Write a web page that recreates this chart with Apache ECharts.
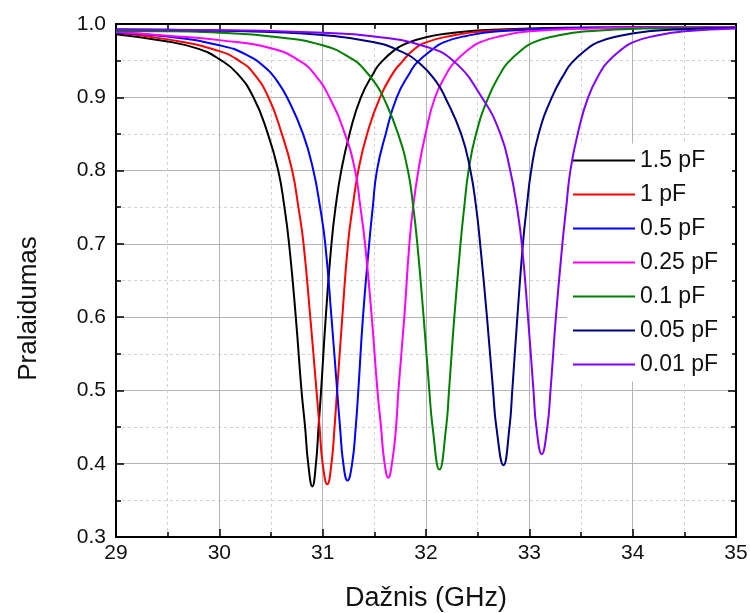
<!DOCTYPE html>
<html>
<head>
<meta charset="utf-8">
<script src="https://cdn.jsdelivr.net/npm/echarts@6/dist/echarts.min.js"></script>
<style>html,body{margin:0;padding:0;background:#fff}#c{width:750px;height:613px}</style>
</head>
<body>
<div id="c"></div>
<script>
// Frequency (GHz), transmission
const seriesNames = ['1.5 pF', '1 pF', '0.5 pF', '0.25 pF', '0.1 pF', '0.05 pF', '0.01 pF'];
const seriesColors = ['#000000', '#ff0000', '#0000ff', '#ff00ff', '#008000', '#000080', '#8000ff'];

const c15 = [[29.0,0.986],[29.5,0.976],[29.8,0.966],[30.0,0.952],[30.17,0.933],[30.33,0.900],[30.47,0.850],[30.57,0.800],[30.63,0.750],[30.675,0.700],[30.74,0.600],[30.795,0.500],[30.83,0.450],[30.86,0.400],[30.90,0.369],[30.935,0.400],[30.96,0.450],[30.985,0.500],[31.03,0.600],[31.085,0.700],[31.125,0.750],[31.18,0.800],[31.26,0.850],[31.37,0.900],[31.5,0.935],[31.56,0.947],[31.7,0.965],[31.8,0.973],[32.0,0.982],[32.27,0.988],[32.5,0.991],[33.0,0.994],[34.0,0.9955],[35.0,0.996]];
const c1 = [[29.0,0.988],[29.5,0.979],[30.0,0.963],[30.2,0.949],[30.33,0.933],[30.475,0.900],[30.605,0.850],[30.705,0.800],[30.765,0.750],[30.815,0.700],[30.88,0.600],[30.94,0.500],[30.97,0.450],[31.0,0.400],[31.045,0.372],[31.085,0.400],[31.115,0.450],[31.14,0.500],[31.19,0.600],[31.245,0.700],[31.29,0.750],[31.345,0.800],[31.43,0.850],[31.555,0.900],[31.69,0.935],[31.76,0.947],[31.88,0.965],[32.0,0.975],[32.25,0.984],[32.55,0.990],[33.0,0.993],[34.0,0.995],[35.0,0.996]];
const c05 = [[29.0,0.988],[29.5,0.983],[30.0,0.971],[30.25,0.959],[30.45,0.940],[30.56,0.922],[30.655,0.900],[30.81,0.850],[30.91,0.800],[30.975,0.750],[31.025,0.700],[31.085,0.600],[31.14,0.500],[31.168,0.450],[31.2,0.400],[31.24,0.377],[31.285,0.400],[31.32,0.450],[31.345,0.500],[31.39,0.600],[31.45,0.700],[31.485,0.750],[31.525,0.800],[31.61,0.850],[31.717,0.900],[31.85,0.935],[31.91,0.947],[32.06,0.965],[32.17,0.975],[32.4,0.984],[32.7,0.990],[33.3,0.994],[34.2,0.9955],[35.0,0.996]];
const c025 = [[29.0,0.989],[29.5,0.984],[30.0,0.978],[30.5,0.967],[30.785,0.949],[30.935,0.929],[31.065,0.900],[31.215,0.850],[31.314,0.800],[31.365,0.750],[31.41,0.700],[31.475,0.600],[31.53,0.500],[31.565,0.450],[31.595,0.405],[31.635,0.381],[31.675,0.405],[31.71,0.450],[31.733,0.500],[31.79,0.600],[31.839,0.700],[31.875,0.750],[31.926,0.800],[31.995,0.850],[32.088,0.900],[32.21,0.935],[32.27,0.947],[32.41,0.965],[32.52,0.975],[32.74,0.984],[33.0,0.990],[33.6,0.994],[34.4,0.9955],[35.0,0.996]];
const c01 = [[29.0,0.990],[29.5,0.990],[30.0,0.988],[30.5,0.983],[31.0,0.971],[31.3,0.951],[31.39,0.940],[31.52,0.917],[31.588,0.900],[31.73,0.850],[31.825,0.800],[31.877,0.750],[31.916,0.700],[31.977,0.600],[32.032,0.500],[32.064,0.450],[32.13,0.392],[32.195,0.450],[32.223,0.500],[32.274,0.600],[32.334,0.700],[32.37,0.750],[32.412,0.800],[32.484,0.850],[32.604,0.900],[32.73,0.935],[32.79,0.947],[32.93,0.965],[33.04,0.975],[33.27,0.984],[33.55,0.990],[34.1,0.994],[35.0,0.995]];
const c005 = [[29.0,0.993],[29.5,0.992],[30.5,0.989],[31.0,0.985],[31.5,0.975],[31.75,0.963],[31.94,0.946],[32.1,0.921],[32.185,0.900],[32.34,0.850],[32.43,0.800],[32.485,0.750],[32.524,0.700],[32.59,0.600],[32.649,0.500],[32.681,0.450],[32.75,0.398],[32.808,0.450],[32.835,0.500],[32.884,0.600],[32.938,0.700],[32.975,0.750],[33.018,0.800],[33.09,0.850],[33.218,0.900],[33.35,0.935],[33.41,0.947],[33.55,0.965],[33.66,0.975],[33.88,0.984],[34.15,0.990],[34.5,0.993],[35.0,0.995]];
const c001 = [[29.0,0.992],[29.5,0.992],[31.0,0.988],[31.5,0.983],[32.0,0.969],[32.27,0.949],[32.54,0.900],[32.72,0.850],[32.815,0.800],[32.88,0.750],[32.927,0.700],[32.987,0.600],[33.04,0.500],[33.068,0.450],[33.12,0.413],[33.174,0.450],[33.205,0.500],[33.257,0.600],[33.32,0.700],[33.357,0.750],[33.397,0.800],[33.468,0.850],[33.569,0.900],[33.69,0.935],[33.75,0.947],[33.89,0.965],[34.0,0.975],[34.22,0.984],[34.5,0.990],[35.0,0.994]];

const curves = [c15, c1, c05, c025, c01, c005, c001];

const fontFam = 'Liberation Sans, Arial, sans-serif';

const gridLine = { show: true, lineStyle: { color: '#b4b4b4', width: 1 } };
const minorGrid = { show: true, lineStyle: { color: '#d2d2d2', width: 1, type: [3, 3] } };

function frameAxis(extra) {
  return Object.assign({
    type: 'value',
    axisLine: { show: true, onZero: false, lineStyle: { color: '#000', width: 2 } },
    axisTick: { show: true, inside: true, length: 8, lineStyle: { color: '#000', width: 1.5 } },
    minorTick: { show: true, splitNumber: 2, length: 5, lineStyle: { color: '#000', width: 1.5 } },
    axisLabel: { show: false },
    splitLine: { show: false },
    minorSplitLine: { show: false }
  }, extra);
}

const chart = echarts.init(document.getElementById('c'), null, { renderer: 'canvas' });
chart.setOption({
  animation: false,
  backgroundColor: '#ffffff',
  grid: { left: 116, right: 14, top: 24, bottom: 76, containLabel: false, outerBoundsMode: 'none' },
  legend: {
    data: seriesNames,
    orient: 'vertical',
    left: 567,
    top: 143.5,
    z: 1,
    padding: [5, 14, 5, 5],
    backgroundColor: '#ffffff',
    itemWidth: 62,
    itemHeight: 14,
    itemGap: 10,
    itemStyle: { opacity: 0 },
    lineStyle: { width: 2 },
    textStyle: { fontFamily: fontFam, fontSize: 23, lineHeight: 24, color: '#111' }
  },
  xAxis: [
    frameAxis({
      min: 29, max: 35, interval: 1, position: 'bottom',
      name: 'Dažnis (GHz)', nameLocation: 'middle', nameGap: 48,
      nameTextStyle: { fontFamily: fontFam, fontSize: 27, color: '#111' },
      axisLabel: { show: true, margin: 6, fontFamily: fontFam, fontSize: 21, color: '#111' },
      splitLine: gridLine, minorSplitLine: minorGrid
    }),
    frameAxis({ min: 29, max: 35, interval: 1, position: 'top' })
  ],
  yAxis: [
    frameAxis({
      min: 0.3, max: 1.0, interval: 0.1, position: 'left',
      name: 'Pralaidumas', nameLocation: 'middle', nameGap: 74, nameRotate: 90,
      nameTextStyle: { fontFamily: fontFam, fontSize: 26, color: '#111', padding: [0, 56, 0, 0] },
      axisLabel: { show: true, margin: 10, fontFamily: fontFam, fontSize: 21, color: '#111',
        formatter: v => v.toFixed(1) },
      splitLine: gridLine, minorSplitLine: minorGrid
    }),
    frameAxis({ min: 0.3, max: 1.0, interval: 0.1, position: 'right' })
  ],
  series: curves.map((d, i) => ({
    name: seriesNames[i],
    type: 'line',
    data: d,
    xAxisIndex: 0,
    yAxisIndex: 0,
    symbol: 'none',
    smooth: 0.5,
    z: 3,
    lineStyle: { color: seriesColors[i], width: 2 },
    itemStyle: { color: seriesColors[i] }
  }))
});
</script>
</body>
</html>
